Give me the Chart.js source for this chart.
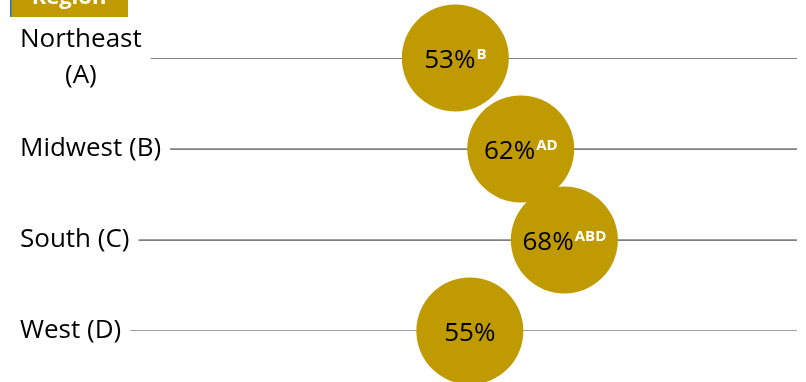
<!DOCTYPE html>
<html>
<head>
<meta charset="utf-8">
<script src="https://cdn.jsdelivr.net/npm/chart.js@4.4.1/dist/chart.umd.min.js"></script>
<style>
  body { margin: 0; background: #fff; }
  #wrap { position: relative; width: 806px; height: 382px; }
</style>
</head>
<body>
<div id="wrap"><canvas id="regionChart"></canvas></div>
<script>
// rows top to bottom
const regionLabels = [['Northeast', '(A)'], ['Midwest (B)'], ['South (C)'], ['West (D)']];
const shares = [53, 62, 68, 55];
const sigLetters = ['B', 'AD', 'ABD', ''];

const gold = '#BF9A00';
const lineGrey = '#808080';
const fontFamily = '"Open Sans", "Noto Sans", sans-serif';

// big bubbles are allowed to spill over the plot edges, so don't let them shrink the plot area
Chart.BubbleController.prototype.getMaxOverflow = function () { return false; };

const rowLines = shares.map((v, i) => ({
    type: 'line',
    data: [{ x: 0, y: i }, { x: 100, y: i }],
    borderColor: lineGrey,
    borderWidth: 1.75,
    pointRadius: 0,
    order: 2
}));

const bubbles = {
    type: 'bubble',
    data: shares.map((v, i) => ({ x: v, y: i, r: 53.5 })),
    backgroundColor: gold,
    borderColor: gold,
    borderWidth: 0,
    hoverRadius: 0,
    clip: false,
    order: 1
};

// category names on the left, with a white backing so the row line starts after the text
const rowLabelPlugin = {
    id: 'rowLabels',
    afterDatasetsDraw(chart) {
        const ctx = chart.ctx;
        const yScale = chart.scales.y;
        ctx.save();
        ctx.font = '26px ' + fontFamily;
        ctx.textBaseline = 'middle';
        regionLabels.forEach((lines, i) => {
            const y = yScale.getPixelForValue(i);
            const widths = lines.map(t => ctx.measureText(t).width);
            const w = Math.max(...widths);
            const lh = 36;
            ctx.fillStyle = '#fff';
            ctx.fillRect(0, y - lines.length * lh / 2, 20 + w + 9, lines.length * lh);
            ctx.fillStyle = '#000';
            ctx.textAlign = 'center';
            lines.forEach((t, k) => {
                ctx.fillText(t, 20 + w / 2, y + (k - (lines.length - 1) / 2) * lh);
            });
        });
        ctx.restore();
    }
};

// percentage with significance letters inside each bubble
const bubbleTextPlugin = {
    id: 'bubbleText',
    afterDatasetsDraw(chart) {
        const ctx = chart.ctx;
        const meta = chart.getDatasetMeta(chart.data.datasets.length - 1);
        const supFont = 'bold 15px ' + fontFamily;
        ctx.save();
        ctx.textBaseline = 'alphabetic';
        ctx.textAlign = 'left';
        meta.data.forEach((pt, i) => {
            const main = shares[i] + '%';
            ctx.font = '26px ' + fontFamily;
            const mw = ctx.measureText(main).width;
            ctx.font = supFont;
            const sw = sigLetters[i] ? ctx.measureText(sigLetters[i]).width + 1 : 0;
            const x0 = pt.x - (mw + sw) / 2;
            const base = pt.y + 10;
            ctx.font = '26px ' + fontFamily;
            ctx.fillStyle = '#000';
            ctx.fillText(main, x0, base);
            if (sigLetters[i]) {
                ctx.font = supFont;
                ctx.fillStyle = '#fff';
                ctx.fillText(sigLetters[i], x0 + mw + 1, base - 9);
            }
        });
        ctx.restore();
    }
};

// header tab in the top-left corner
const headerPlugin = {
    id: 'header',
    afterDraw(chart) {
        const ctx = chart.ctx;
        ctx.save();
        ctx.fillStyle = gold;
        ctx.fillRect(10, 0, 118, 17);
        ctx.fillStyle = '#2E75B6';
        ctx.fillRect(10, 0, 1.5, 17);
        ctx.fillStyle = '#fff';
        ctx.font = 'bold 22px ' + fontFamily;
        ctx.textAlign = 'center';
        ctx.textBaseline = 'alphabetic';
        ctx.fillText('Region', 69, 4);
        ctx.restore();
    }
};

new Chart(document.getElementById('regionChart'), {
    type: 'bubble',
    data: { datasets: [...rowLines, bubbles] },
    options: {
        responsive: true,
        maintainAspectRatio: false,
        animation: false,
        events: [],
        layout: { padding: { left: 70, right: 9, top: 58, bottom: 51 } },
        scales: {
            x: { type: 'linear', min: 0, max: 100, display: false },
            y: { type: 'linear', min: 0, max: 3, reverse: true, display: false }
        },
        plugins: { legend: { display: false }, tooltip: { enabled: false } }
    },
    plugins: [rowLabelPlugin, bubbleTextPlugin, headerPlugin]
});
</script>
</body>
</html>
